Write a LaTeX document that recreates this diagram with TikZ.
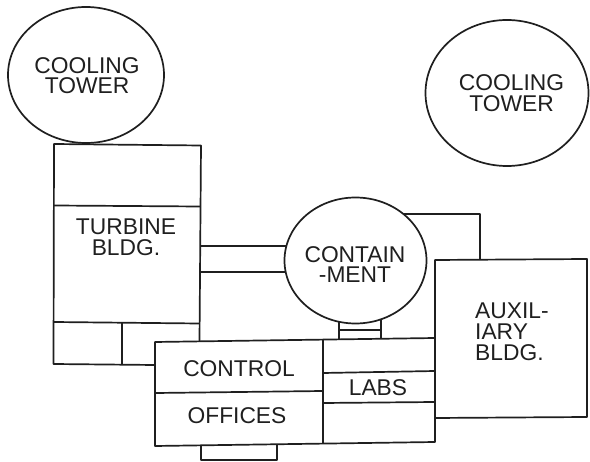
\documentclass[tikz,border=0pt]{standalone}
\usepackage{fontspec}
\setmainfont{Liberation Sans}
\usetikzlibrary{shapes.geometric}
\definecolor{ink}{gray}{0.12}
\begin{document}
\begin{tikzpicture}[x=1pt,y=-1pt,
  ln/.style={draw=ink,line width=1.7pt,line join=round},
  oval/.style={ln,fill=white,ellipse,inner sep=0pt},
  lab/.style={font=\fontsize{22.8}{20.8}\selectfont,text=ink,inner sep=0pt,text depth=0pt}]
\useasboundingbox (0,0) rectangle (590,462);
% pipes behind containment
\coordinate (p1a) at (200,246); \coordinate (p1b) at (295,246);
\coordinate (p2a) at (200,272); \coordinate (p2b) at (295,272);
\coordinate (p3a) at (400,214); \coordinate (p3b) at (480,214); \coordinate (p3c) at (480,260);
\draw[ln] (p1a) -- (p1b);
\draw[ln] (p2a) -- (p2b);
\draw[ln] (p3a) -- (p3b) -- (p3c);
% stub below containment
\coordinate (s1) at (339,320); \coordinate (s2) at (339,339);
\coordinate (s3) at (381,320); \coordinate (s4) at (381,338);
\coordinate (s5) at (339,330); \coordinate (s6) at (381,330);
\draw[ln] (s1) -- (s2) (s3) -- (s4) (s5) -- (s6);
\node[oval,minimum width=142pt,minimum height=126pt] (c) at (355.5,260.5) {};
% turbine building
\coordinate (b1) at (54,144); \coordinate (b2) at (201,145.5);
\coordinate (b3) at (199.5,341); \coordinate (b4) at (155,365); \coordinate (b5) at (53.5,364);
\draw[ln] (b3) -- (b2) -- (b1) -- (b5) -- (b4);
\coordinate (d1) at (54,205.5); \coordinate (d2) at (200,206.5);
\draw[ln] (d1) -- (d2);
\coordinate (d3) at (54,322); \coordinate (d4) at (199,323.5);
\draw[ln] (d3) -- (d4);
\coordinate (d5) at (122,323); \coordinate (d6) at (122,364);
\draw[ln] (d5) -- (d6);
% auxiliary
\coordinate (a1) at (435,260); \coordinate (a2) at (587,259);
\coordinate (a3) at (587,417); \coordinate (a4) at (435,418);
\draw[ln] (a1) -- (a2) -- (a3) -- (a4) -- cycle;
% control / labs block
\coordinate (k1) at (155,342); \coordinate (k2) at (435,338);
\coordinate (k3) at (435,442); \coordinate (k4) at (155,446);
\draw[ln] (k1) -- (k2) -- (k3) -- (k4) -- cycle;
\coordinate (v1) at (323,340); \coordinate (v2) at (323,444);
\draw[ln] (v1) -- (v2);
\coordinate (h1) at (156,393); \coordinate (h2) at (323,391);
\draw[ln] (h1) -- (h2);
\coordinate (h3) at (323,373); \coordinate (h4) at (435,371);
\draw[ln] (h3) -- (h4);
\coordinate (h5) at (323,403); \coordinate (h6) at (435,402);
\draw[ln] (h5) -- (h6);
% bottom bump
\coordinate (u1) at (201,446); \coordinate (u2) at (201,460);
\coordinate (u3) at (277,460); \coordinate (u4) at (277,445);
\draw[ln] (u1) -- (u2) -- (u3) -- (u4);
% cooling towers
\node[oval,minimum width=156pt,minimum height=136pt] (t1) at (86,75) {};
\node[oval,minimum width=163pt,minimum height=146pt] (t2) at (507,93) {};
% labels
\node[lab,align=center] (lt1) at (87,75.5) {COOLING\\TOWER};
\node[lab,align=center] (lt2) at (511.5,93) {COOLING\\TOWER};
\node[lab,align=center] (lt) at (126,237) {TURBINE\\BLDG.};
\node[lab,align=center] (lc) at (355,264.5) {CONTAIN\\-MENT};
\node[lab,align=left,anchor=west] (la) at (475,331.5) {AUXIL-\\IARY\\BLDG.};
\node[lab] (lk) at (239,369) {CONTROL};
\node[lab] (lo) at (237,416) {OFFICES};
\node[lab] (ll) at (378,388) {LABS};
\end{tikzpicture}
\end{document}
